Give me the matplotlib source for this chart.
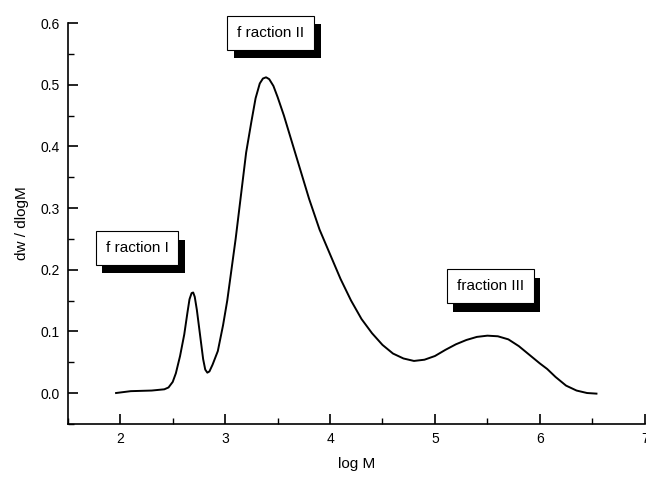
import matplotlib
matplotlib.use("Agg")
import matplotlib.pyplot as plt
import matplotlib.patheffects as pe
from matplotlib.ticker import MultipleLocator, FormatStrFormatter

plt.rcParams['font.family'] = ['Liberation Sans', 'DejaVu Sans']

log_m = [1.96, 2.10, 2.30, 2.42, 2.46, 2.50, 2.53, 2.57, 2.61, 2.64, 2.66, 2.68, 2.695,
         2.71, 2.73, 2.76, 2.79, 2.81, 2.83, 2.85, 2.88, 2.93, 2.98, 3.02, 3.06, 3.10,
         3.15, 3.20, 3.25, 3.29, 3.33, 3.36, 3.39, 3.42, 3.46, 3.50, 3.56, 3.64, 3.72,
         3.80, 3.90, 4.00, 4.10, 4.20, 4.30, 4.40, 4.50, 4.60, 4.70, 4.80, 4.90, 5.00,
         5.10, 5.20, 5.30, 5.40, 5.50, 5.60, 5.70, 5.80, 5.90, 6.00, 6.07, 6.15, 6.25,
         6.35, 6.45, 6.54]
dw = [0.000, 0.003, 0.004, 0.006, 0.009, 0.018, 0.032, 0.060, 0.095, 0.130, 0.152, 0.162, 0.163,
      0.156, 0.135, 0.095, 0.055, 0.038, 0.033, 0.035, 0.046, 0.068, 0.110, 0.150, 0.200, 0.250,
      0.320, 0.390, 0.440, 0.478, 0.502, 0.510, 0.512, 0.509, 0.498, 0.480, 0.450, 0.405, 0.360,
      0.315, 0.265, 0.225, 0.185, 0.150, 0.120, 0.097, 0.078, 0.064, 0.056, 0.052, 0.054, 0.060,
      0.070, 0.079, 0.086, 0.091, 0.093, 0.092, 0.087, 0.076, 0.062, 0.048, 0.039, 0.026, 0.012,
      0.004, 0.000, -0.001]

labels = ["f raction I", "f raction II", "fraction III"]
label_x = [2.16, 3.435, 5.53]
label_y = [0.235, 0.584, 0.173]

fig = plt.figure(figsize=(6.46, 4.8), dpi=100)
ax = fig.add_axes([0.105, 0.117, 0.893, 0.835])
ax.plot(log_m, dw, color='black', lw=1.4, solid_joinstyle='round')

ax.set_xlim(1.5, 7)
ax.set_ylim(-0.05, 0.6)
for s in ['top', 'right']:
    ax.spines[s].set_visible(False)
for s in ['left', 'bottom']:
    ax.spines[s].set_linewidth(1.2)
ax.xaxis.set_major_locator(MultipleLocator(1))
ax.xaxis.set_minor_locator(MultipleLocator(0.5))
ax.yaxis.set_major_locator(MultipleLocator(0.1))
ax.yaxis.set_minor_locator(MultipleLocator(0.05))
ax.yaxis.set_major_formatter(FormatStrFormatter('%.1f'))
ax.tick_params(which='major', direction='in', length=7, width=1.2, labelsize=10, pad=6)
ax.tick_params(which='minor', direction='in', length=4, width=1.0)
ax.set_xlabel('log M', fontsize=11, labelpad=8)
ax.set_ylabel('dw / dlogM', fontsize=11, labelpad=8)

for t, x, y in zip(labels, label_x, label_y):
    txt = ax.text(x, y, t, ha='center', va='center', fontsize=11,
                  bbox=dict(boxstyle='square,pad=0.65', fc='white', ec='black', lw=0.8))
    txt.get_bbox_patch().set_path_effects([
        pe.SimplePatchShadow(offset=(4.5, -6), shadow_rgbFace='black', alpha=1.0),
        pe.Normal()])

fig.savefig('out.png', dpi=100)
